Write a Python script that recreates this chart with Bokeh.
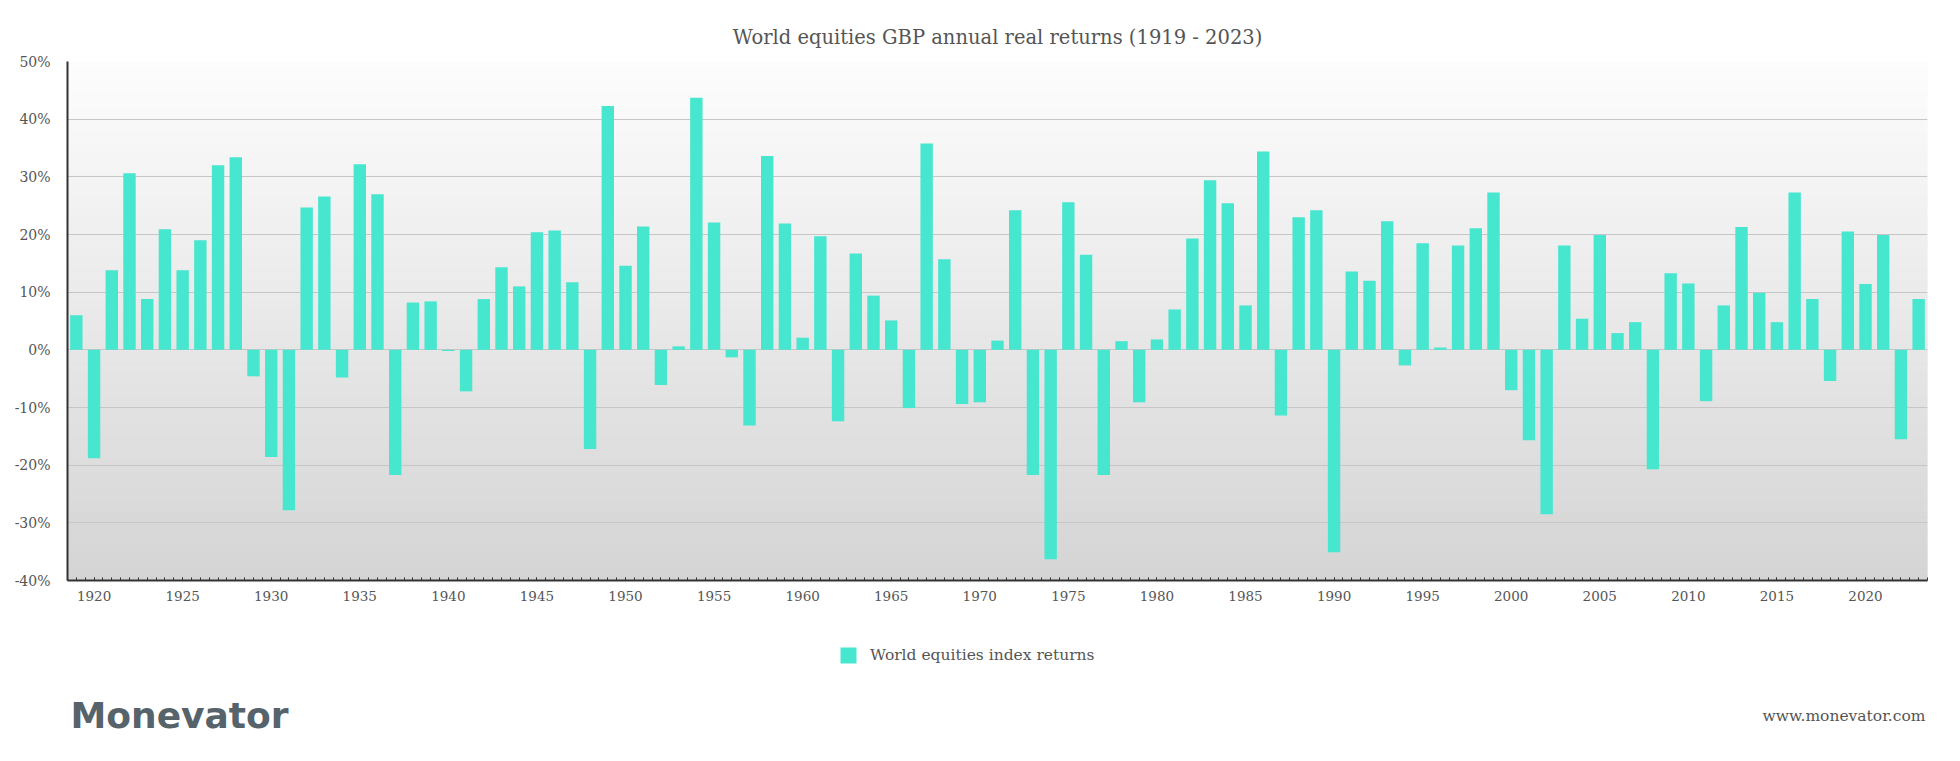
import numpy as np
from bokeh.plotting import figure
from bokeh.layouts import column
from bokeh.models import (ColumnDataSource, Label, Legend, LegendItem, Range1d,
                          SingleIntervalTicker, FixedTicker, PrintfTickFormatter)
from bokeh.embed import file_html
from bokeh.resources import INLINE

# ---------------- data ----------------
years = list(range(1919, 2024))
returns = [
    6.0, -18.8, 13.8, 30.6, 8.8, 20.9, 13.8, 19.0, 32.0, 33.4,        # 1919-1928
    -4.6, -18.6, -27.8, 24.7, 26.6, -4.8, 32.2, 27.0, -21.7, 8.2,     # 1929-1938
    8.4, -0.2, -7.2, 8.8, 14.3, 11.0, 20.4, 20.7, 11.7, -17.2,        # 1939-1948
    42.3, 14.6, 21.4, -6.1, 0.6, 43.7, 22.1, -1.3, -13.1, 33.6,       # 1949-1958
    21.9, 2.1, 19.7, -12.4, 16.7, 9.4, 5.1, -10.1, 35.8, 15.7,        # 1959-1968
    -9.4, -9.1, 1.6, 24.2, -21.7, -36.3, 25.6, 16.5, -21.7, 1.5,      # 1969-1978
    -9.1, 1.8, 7.0, 19.3, 29.4, 25.4, 7.7, 34.4, -11.4, 23.0,         # 1979-1988
    24.2, -35.1, 13.6, 12.0, 22.3, -2.7, 18.5, 0.4, 18.1, 21.1,       # 1989-1998
    27.3, -7.0, -15.7, -28.5, 18.1, 5.4, 19.9, 2.9, 4.8, -20.7,       # 1999-2008
    13.3, 11.5, -8.9, 7.7, 21.3, 9.9, 4.8, 27.3, 8.8, -5.4,           # 2009-2018
    20.5, 11.4, 19.9, -15.5, 8.8,                                     # 2019-2023
]
y_ticks = [-40, -30, -20, -10, 0, 10, 20, 30, 40, 50]
series_name = "World equities index returns"
title_text = "World equities GBP annual real returns (1919 - 2023)"

# ---------------- styling ----------------
BAR = "#46e6cf"
TXT = "#555555"
SERIF = "DejaVu Serif"
W, H_MAIN, H_FOOT = 1960, 630, 131
ML, MR = 67, 33

x_start, x_end = years[0] - 0.5, years[-1] + 0.5
y_start, y_end = y_ticks[0], y_ticks[-1]

src = ColumnDataSource(dict(year=years, ret=returns))

p = figure(width=W, height=H_MAIN, x_range=(x_start, x_end), y_range=(y_start, y_end),
           output_backend="svg", toolbar_location=None,
           min_border_left=ML, min_border_right=MR, min_border_top=61, min_border_bottom=50)
p.background_fill_color = "white"
p.border_fill_color = "white"
p.outline_line_color = None

# title
p.title.text = title_text
p.title.align = "center"
p.title.text_font = SERIF
p.title.text_font_style = "normal"
p.title.text_font_size = "19.5px"
p.title.text_color = TXT
p.title.standoff = 25

# vertical gradient background of the plot area
n = 90
edges = np.linspace(y_start, y_end, n + 1)
mid = (edges[:-1] + edges[1:]) / 2
frac = (mid - y_start) / (y_end - y_start)
shade = 212 + (253 - 212) * frac
cols = []
for s in shade:
    g = int(round(s))
    cols.append("#%02x%02x%02x" % (g, g, g))
p.quad(left=x_start, right=x_end, bottom=edges[:-1], top=edges[1:],
       fill_color=cols, line_color=cols, line_width=1, level="image")

bars = p.vbar(x="year", top="ret", bottom=0, width=0.7, source=src,
              fill_color=BAR, line_color=None)

# grid
p.xgrid.visible = False
p.ygrid.ticker = FixedTicker(ticks=y_ticks)
p.ygrid.grid_line_color = "#c6c6c6"
p.ygrid.grid_line_width = 1

# y axis
p.yaxis.ticker = FixedTicker(ticks=y_ticks)
p.yaxis.formatter = PrintfTickFormatter(format="%d%%")
p.yaxis.major_tick_in = 0
p.yaxis.major_tick_out = 0
p.yaxis.minor_tick_in = 0
p.yaxis.minor_tick_out = 0
p.yaxis.axis_line_color = "#333333"
p.yaxis.axis_line_width = 2
p.yaxis.major_label_standoff = 17
p.yaxis.major_label_text_font = SERIF
p.yaxis.major_label_text_font_size = "14px"
p.yaxis.major_label_text_color = TXT

# x axis
p.xaxis.ticker = SingleIntervalTicker(interval=5, num_minor_ticks=10)
p.xaxis.major_tick_in = 3
p.xaxis.major_tick_out = 0
p.xaxis.minor_tick_in = 3
p.xaxis.minor_tick_out = 0
p.xaxis.major_tick_line_color = "#333333"
p.xaxis.minor_tick_line_color = "#333333"
p.xaxis.axis_line_color = "#333333"
p.xaxis.axis_line_width = 2
p.xaxis.major_label_standoff = 10
p.xaxis.major_label_text_font = SERIF
p.xaxis.major_label_text_font_size = "13.5px"
p.xaxis.major_label_text_color = TXT

# ---------------- footer (legend + branding) ----------------
# footer coordinates are page pixels: x across the frame, y downward from the footer top
f = figure(width=W, height=H_FOOT, x_range=Range1d(ML, W - MR), y_range=Range1d(H_FOOT, 0),
           output_backend="svg", toolbar_location=None,
           min_border_left=ML, min_border_right=MR, min_border_top=0, min_border_bottom=0)
f.axis.visible = False
f.grid.visible = False
f.outline_line_color = None
f.background_fill_color = "white"
f.border_fill_color = "white"

# legend proxy: same series, drawn on an off-screen range so only its legend swatch shows
f.extra_y_ranges = {"hidden": Range1d(1000, 2000)}
proxy = f.vbar(x="year", top="ret", bottom=0, width=0.7, source=src,
               fill_color=BAR, line_color=None, y_range_name="hidden")
legend = Legend(items=[LegendItem(label=series_name, renderers=[proxy])],
                location=(771, 96), orientation="horizontal",
                margin=0, padding=0, glyph_width=20, glyph_height=20,
                label_standoff=12, border_line_color=None, background_fill_alpha=0,
                label_text_font=SERIF, label_text_font_size="15.5px",
                label_text_color=TXT)
f.add_layout(legend)

f.add_layout(Label(x=70, y=85, text="Monevator",
                   text_align="left", text_baseline="middle",
                   text_font="DejaVu Sans", text_font_style="bold",
                   text_font_size="36px", text_color="#56636a"))
f.add_layout(Label(x=W - MR - 2, y=85, text="www.monevator.com",
                   text_align="right", text_baseline="middle",
                   text_font=SERIF, text_font_size="15.5px", text_color=TXT))

layout = column(p, f, spacing=0)
open("out.html", "w").write(file_html(layout, INLINE))
